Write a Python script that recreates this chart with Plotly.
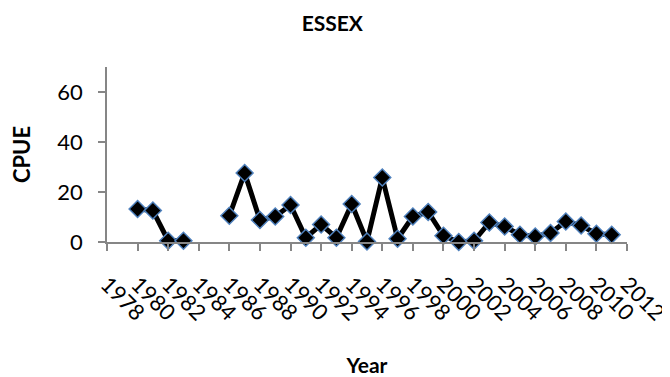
import plotly.graph_objects as go

years = [1980, 1981, 1982, 1983, 1984, 1985, 1986, 1987, 1988, 1989, 1990,
         1991, 1992, 1993, 1994, 1995, 1996, 1997, 1998, 1999, 2000,
         2001, 2002, 2003, 2004, 2005, 2006, 2007, 2008, 2009, 2010, 2011]
cpue = [13.2, 12.6, 0.5, 0.5, None, None, 10.5, 27.6, 8.8, 10.2, 14.8,
        1.7, 7.0, 1.7, 15.2, 0.2, 25.8, 1.3, 10.2, 12.0, 2.5,
        0.0, 0.5, 7.8, 6.2, 2.9, 2.2, 3.6, 8.2, 6.6, 3.3, 2.9]
tick_years = list(range(1978, 2013, 2))
tick_labels = [str(y) for y in tick_years]
y_ticks = [0, 20, 40, 60]

FONT = "Lato"
AXIS_COLOR = "#868686"

fig = go.Figure()
fig.add_trace(go.Scatter(
    x=years, y=cpue, mode="lines+markers", connectgaps=False,
    line=dict(color="black", width=5),
    marker=dict(symbol="diamond", size=13, color="black",
                line=dict(color="#4F81BD", width=1.5)),
    cliponaxis=False, showlegend=False,
))

fig.update_layout(
    width=670, height=377,
    paper_bgcolor="white", plot_bgcolor="white",
    margin=dict(l=99, r=51, t=59, b=143),
    title=dict(text="<b>ESSEX</b>", x=0.484, xanchor="center", y=0.958, yanchor="middle",
               font=dict(family=FONT, size=21, color="black")),
    font=dict(family=FONT, color="black"),
)
fig.update_xaxes(
    range=[1978, 2012], tickmode="array", tickvals=tick_years, ticktext=tick_labels,
    tickangle=45, ticks="outside", ticklen=7, tickwidth=1.5, tickcolor=AXIS_COLOR,
    showline=True, linecolor=AXIS_COLOR, linewidth=1.5, showgrid=False, zeroline=False,
    automargin=False, ticklabelstandoff=12,
    tickfont=dict(family=FONT, size=22, color="black"),
    title=dict(text="<b>Year</b>", font=dict(family=FONT, size=21, color="black"), standoff=34),
)
fig.update_yaxes(
    range=[0, 70], tickmode="array", tickvals=y_ticks,
    ticks="outside", ticklen=7, tickwidth=1.5, tickcolor=AXIS_COLOR,
    showline=True, linecolor=AXIS_COLOR, linewidth=1.5, showgrid=False, zeroline=False,
    automargin=False,
    tickfont=dict(family=FONT, size=22, color="black"), ticklabelstandoff=11,
    title=dict(text="<b>CPUE</b>", font=dict(family=FONT, size=22, color="black"), standoff=31),
)

fig.write_html("out.html")
